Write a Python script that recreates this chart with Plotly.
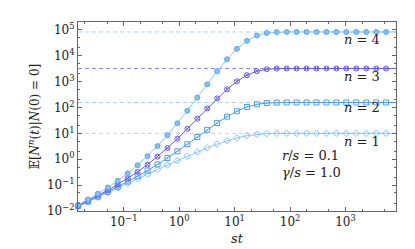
import plotly.graph_objects as go

# time values (s*t)
st = [0.015, 0.0226, 0.0341, 0.0516, 0.078, 0.118, 0.178, 0.269, 0.406, 0.614,
      0.927, 1.40, 2.12, 3.20, 4.83, 7.30, 11.0, 16.7, 25.2, 38.0,
      57.4, 86.9, 131, 198, 299, 452, 684, 1030, 1560, 2360,
      3570, 5380, 8130]

moment_n1 = [0.0149, 0.0226, 0.0341, 0.0514, 0.0777, 0.117, 0.176, 0.265, 0.398, 0.595,
             0.885, 1.31, 1.91, 2.74, 3.83, 5.18, 6.68, 8.11, 9.19, 9.78,
             9.97, 10.0, 10.0, 10.0, 10.0, 10.0, 10.0, 10.0, 10.0, 10.0,
             10.0, 10.0, 10.0]
moment_n2 = [0.0153, 0.0233, 0.0357, 0.0553, 0.0864, 0.137, 0.221, 0.367, 0.628, 1.11,
             2.02, 3.78, 7.19, 13.6, 25.1, 44.1, 71.3, 104, 132, 148,
             154, 155, 155, 155, 155, 155, 155, 155, 155, 155,
             155, 155, 155]
moment_n3 = [0.0159, 0.0248, 0.0392, 0.0633, 0.105, 0.181, 0.326, 0.621, 1.26, 2.72,
             6.20, 14.9, 36.9, 91.9, 223, 504, 1020, 1760, 2520, 3000,
             3170, 3200, 3200, 3200, 3200, 3200, 3200, 3200, 3200, 3200,
             3200, 3200, 3200]
moment_n4 = [0.0173, 0.0279, 0.0465, 0.0806, 0.147, 0.284, 0.588, 1.32, 3.22, 8.49,
             24.3, 74.3, 240, 782, 2480, 7230, 18300, 37500, 60000, 75600,
             81300, 82200, 82300, 82300, 82300, 82300, 82300, 82300, 82300, 82300,
             82300, 82300, 82300]

plateaus = [10, 155, 3200, 82300]
labels = ["n = 1", "n = 2", "n = 3", "n = 4"]

x_ticks = [0.1, 1, 10, 100, 1000]
x_ticktext = ["10<sup>−1</sup>", "10<sup>0</sup>", "10<sup>1</sup>", "10<sup>2</sup>", "10<sup>3</sup>"]
y_ticks = [1e-2, 1e-1, 1, 10, 100, 1e3, 1e4, 1e5]
y_ticktext = ["10<sup>−2</sup>", "10<sup>−1</sup>", "10<sup>0</sup>", "10<sup>1</sup>",
              "10<sup>2</sup>", "10<sup>3</sup>", "10<sup>4</sup>", "10<sup>5</sup>"]

series = [
    (moment_n1, "#8ec8f8", "diamond-open", "#86c2f6", "#86c2f6", 5),
    (moment_n2, "#4d9ff0", "square-open-dot", "#4d9ff0", "#4d9ff0", 5),
    (moment_n3, "#6a5ce8", "circle-x-open", "#6a5ce8", "#6a5ce8", 5),
    (moment_n4, "#8cc4f7", "circle", "#86c0f6", "#5aa8f2", 5),
]
dash_colors = ["#b4dcfa", "#a8d4fa", "#8c88f0", "#a8d8fa"]

FONT = "DejaVu Serif"
fig = go.Figure()

for lvl, dc in zip(plateaus, dash_colors):
    fig.add_trace(go.Scatter(x=[st[0], st[-1]], y=[lvl, lvl], mode="lines",
                             line=dict(color=dc, width=1, dash="4px,3px"),
                             hoverinfo="skip", cliponaxis=False))

for vals, lc, sym, mc, edge, ms in series:
    fig.add_trace(go.Scatter(
        x=st, y=vals, mode="lines+markers",
        line=dict(color=lc, width=1),
        marker=dict(symbol=sym, size=ms, color=mc, line=dict(color=edge, width=1)),
        cliponaxis=False))

axis_common = dict(type="log", showgrid=False, zeroline=False, showline=True,
                   linecolor="#666", linewidth=1, mirror="allticks", automargin=False,
                   ticks="inside", ticklen=4, tickcolor="#666",
                   tickfont=dict(family=FONT, size=12, color="#222"),
                   minor=dict(ticks="inside", ticklen=2, tickcolor="#666", showgrid=False))

fig.update_xaxes(**axis_common, range=[-1.825, 3.91], tickvals=x_ticks, ticktext=x_ticktext,
                 title=dict(text="<i>st</i>", font=dict(family=FONT, size=13, color="#222"), standoff=5))
fig.update_yaxes(**axis_common, range=[-2.0, 5.3], tickvals=y_ticks, ticktext=y_ticktext,
                 title=dict(text="𝔼[<i>N</i><sup><i>n</i></sup>(<i>t</i>)|<i>N</i>(0) = 0]",
                            font=dict(family=FONT, size=12, color="#222"), standoff=4))

ann_y = {"n = 4": 0.905, "n = 3": 0.709, "n = 2": 0.545, "n = 1": 0.37}
for lab in labels:
    fig.add_annotation(xref="paper", yref="paper", x=0.955, y=ann_y[lab],
                       text="<i>n</i> = " + lab.split("= ")[1], showarrow=False,
                       xanchor="right", yanchor="middle",
                       font=dict(family=FONT, size=13, color="#222"))
fig.add_annotation(xref="paper", yref="paper", x=0.635, y=0.296,
                   text="<i>r</i>/<i>s</i> = 0.1", showarrow=False,
                   xanchor="left", yanchor="middle",
                   font=dict(family=FONT, size=13, color="#222"))
fig.add_annotation(xref="paper", yref="paper", x=0.635, y=0.206,
                   text="<i>γ</i>/<i>s</i> = 1.0", showarrow=False,
                   xanchor="left", yanchor="middle",
                   font=dict(family=FONT, size=13, color="#222"))

fig.update_layout(width=415, height=249, margin=dict(l=70, r=27, t=14, b=46),
                  paper_bgcolor="white", plot_bgcolor="white", showlegend=False)

fig.write_html("out.html")
